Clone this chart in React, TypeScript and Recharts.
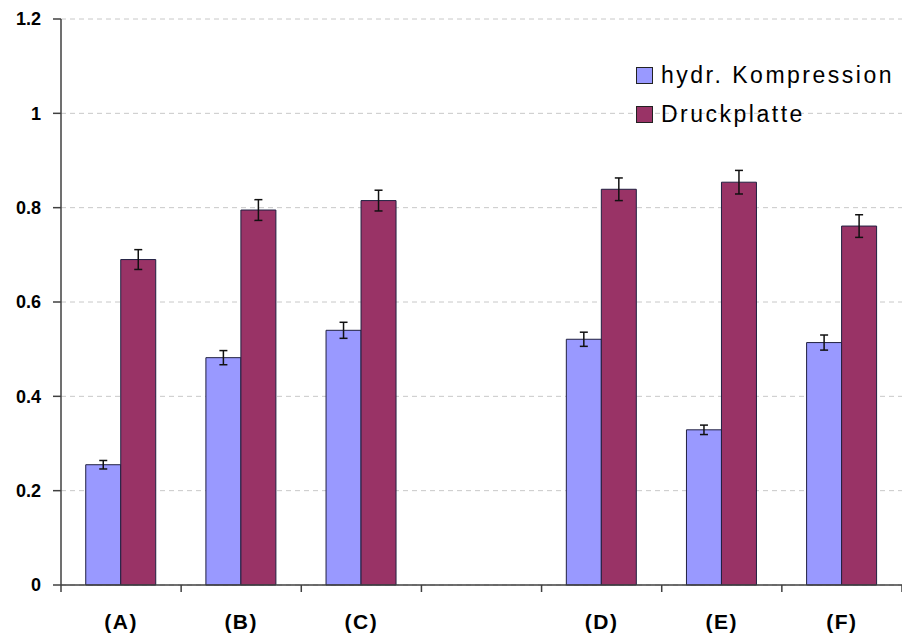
import React from 'react';
import { BarChart, Bar, XAxis, YAxis, CartesianGrid, ErrorBar, Legend } from 'recharts';

const categories = ['(A)', '(B)', '(C)', '', '(D)', '(E)', '(F)'];
const hydrValues = [0.255, 0.482, 0.540, null, 0.521, 0.329, 0.514];
const hydrErrors = [0.009, 0.015, 0.017, null, 0.015, 0.010, 0.016];
const druckValues = [0.690, 0.795, 0.815, null, 0.839, 0.854, 0.761];
const druckErrors = [0.021, 0.022, 0.022, null, 0.024, 0.025, 0.024];
const yTicks = [0, 0.2, 0.4, 0.6, 0.8, 1, 1.2];
const boundaryTicks = [0, 1, 2, 3, 4, 5, 6, 7];
const seriesNames = ['hydr. Kompression', 'Druckplatte'];
const seriesColors = ['#9999FF', '#993366'];

const data = categories.map((name, i) => ({
  name,
  pos: i + 0.5,
  hydr: hydrValues[i],
  hydrErr: hydrErrors[i],
  druck: druckValues[i],
  druckErr: druckErrors[i],
}));

const FONT = '"Liberation Sans", Arial, sans-serif';

const CatTick = (props: any) => {
  const { x, y, payload } = props;
  return (
    <text
      x={x}
      y={y}
      dy="0.71em"
      textAnchor="middle"
      fontFamily={FONT}
      fontWeight="bold"
      fontSize={21}
      letterSpacing={1.5}
      fill="#000"
    >
      {payload.value}
    </text>
  );
};

const LegendBox = () => (
  <div style={{ fontFamily: FONT }}>
    {seriesNames.map((n, i) => (
      <div key={n} style={{ display: 'flex', alignItems: 'center', height: 39 }}>
        <div
          style={{
            width: 15,
            height: 15,
            background: seriesColors[i],
            border: '1px solid #222',
            marginRight: 8,
          }}
        />
        <span style={{ fontSize: 23, letterSpacing: 2.5, color: '#000', whiteSpace: 'nowrap' }}>{n}</span>
      </div>
    ))}
  </div>
);

export default function App() {
  return (
    <div style={{ position: 'absolute', left: 0, top: 0, width: 902, height: 637, background: '#fff' }}>
      <BarChart
        width={902}
        height={637}
        data={data}
        margin={{ top: 19, right: 0, bottom: 0, left: 0 }}
        barCategoryGap="20.6%"
        barGap={0}
      >
        <CartesianGrid xAxisId="axisB" vertical={false} stroke="#c8c8c8" strokeDasharray="5 4" />
        <XAxis
          xAxisId="axisA"
          type="number"
          dataKey="pos"
          domain={[0, 7]}
          ticks={boundaryTicks}
          allowDataOverflow
          interval={0}
          height={1}
          tickSize={7}
          tickFormatter={() => ''}
          stroke="#404040"
          axisLine={{ stroke: '#404040', strokeWidth: 1.5 }}
          tickLine={{ stroke: '#404040', strokeWidth: 1.5 }}
        />
        <XAxis
          xAxisId="axisB"
          dataKey="name"
          height={51}
          axisLine={false}
          tickLine={false}
          tickSize={0}
          tickMargin={28}
          interval={0}
          tick={<CatTick />}
        />
        <YAxis
          width={61}
          domain={[0, 1.2]}
          ticks={yTicks}
          tickSize={8}
          tickMargin={12}
          axisLine={{ stroke: '#404040', strokeWidth: 1.5 }}
          tickLine={{ stroke: '#404040', strokeWidth: 1.5 }}
          tick={{ fontSize: 18, fontWeight: 'bold', fill: '#000', fontFamily: FONT }}
        />
        <Legend
          layout="vertical"
          align="center"
          verticalAlign="middle"
          wrapperStyle={{ position: 'absolute', top: 56, left: 636, width: 262, height: 80 }}
          content={() => <LegendBox />}
        />
        <Bar xAxisId="axisB" dataKey="hydr" name={seriesNames[0]} fill={seriesColors[0]} stroke="#202040" strokeWidth={1} isAnimationActive={false}>
          <ErrorBar dataKey="hydrErr" width={4} stroke="#111" strokeWidth={1.5} />
        </Bar>
        <Bar xAxisId="axisB" dataKey="druck" name={seriesNames[1]} fill={seriesColors[1]} stroke="#202040" strokeWidth={1} isAnimationActive={false}>
          <ErrorBar dataKey="druckErr" width={4} stroke="#111" strokeWidth={1.5} />
        </Bar>
      </BarChart>
    </div>
  );
}
